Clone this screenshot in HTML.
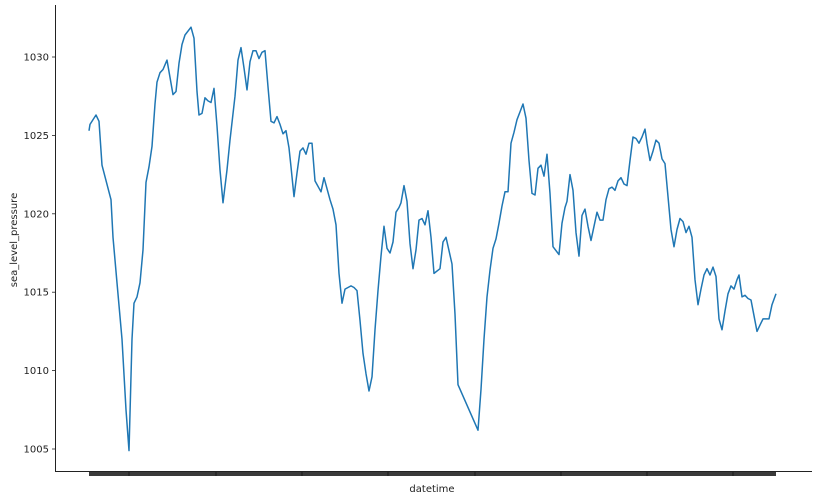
<!DOCTYPE html>
<html><head><meta charset="utf-8"><style>
html,body{margin:0;padding:0;background:#fff;}
svg{display:block;font-family:"DejaVu Sans","Liberation Sans",sans-serif;}
</style></head><body>
<svg id="chart" width="817" height="500" viewBox="0 0 817 500" xmlns="http://www.w3.org/2000/svg">
<g id="yaxis"></g>
<g id="xaxis"></g>
<g id="plot"></g>
<text x="0" y="0" transform="translate(17,240) rotate(-90)" text-anchor="middle" font-size="10" fill="#222">sea_level_pressure</text>
<text x="432" y="492" text-anchor="middle" font-size="10" fill="#222">datetime</text>
</svg>
<script>
const timeIdx = [0,1,7,10,13,22,24,28,33,37,40,43,45,48,51,54,57,60,63,66,68,71,74,78,81,84,87,90,93,96,102,105,108,110,113,116,119,122,125,128,131,134,138,141,146,149,152,155,158,161,164,167,170,173,176,179,182,185,188,191,194,197,200,202,205,208,211,214,217,220,223,
226,232,235,238,241,244,247,250,253,256,259,262,265,268,271,274,277,280,283,286,289,292,295,298,301,304,307,310,312,315,318,321,324,327,330,333,336,339,342,345,351,354,357,363,366,369,389,392,395,398,401,404,407,410,413,416,419,422,425,428,431,434,437,440,443,446,449,452,455,458,
461,464,470,473,476,478,481,484,487,490,493,496,499,502,505,508,511,514,517,520,523,526,529,532,535,538,541,544,547,550,553,556,558,561,564,567,570,573,576,579,582,585,588,591,594,597,600,603,606,609,612,615,618,621,624,627,630,633,636,639,642,645,648,650,653,656,659,662,665,668,671,674,680,683,687];
const pressure = [1025.3,1025.7,1026.3,1025.9,1023.1,1020.9,1018.5,1015.6,1012.0,1007.5,1004.9,1012.0,1014.3,1014.7,1015.6,1017.7,1022.0,1023.0,1024.3,1027.0,1028.4,1029.0,1029.2,1029.8,1028.7,1027.6,1027.8,1029.6,1030.8,1031.4,1031.9,1031.2,1027.8,1026.3,1026.4,1027.4,1027.2,1027.1,1028.0,1025.6,1022.8,1020.7,1022.8,1024.7,1027.5,1029.8,1030.6,1029.3,1027.9,1029.7,1030.4,1030.4,1029.9,1030.3,1030.4,1028.1,1025.9,1025.8,1026.2,1025.7,1025.1,1025.3,1024.2,1023.0,1021.1,1022.6,1024.0,1024.2,1023.8,1024.5,1024.5,
1022.1,1021.4,1022.3,1021.6,1020.9,1020.3,1019.3,1016.2,1014.3,1015.2,1015.3,1015.4,1015.3,1015.1,1013.2,1011.1,1009.8,1008.7,1009.6,1012.6,1015.1,1017.3,1019.2,1017.8,1017.5,1018.2,1020.1,1020.4,1020.7,1021.8,1020.8,1018.1,1016.5,1017.7,1019.6,1019.7,1019.3,1020.2,1018.5,1016.2,1016.5,1018.2,1018.5,1016.8,1013.6,1009.1,1006.2,1008.8,1012.0,1014.7,1016.4,1017.8,1018.4,1019.4,1020.5,1021.4,1021.4,1024.5,1025.2,1026.0,1026.5,1027.0,1026.1,1023.4,1021.3,1021.2,1022.9,1023.1,1022.4,1023.8,
1021.3,1017.9,1017.4,1019.4,1020.4,1020.8,1022.5,1021.5,1018.8,1017.3,1019.9,1020.3,1019.2,1018.3,1019.2,1020.1,1019.6,1019.6,1020.9,1021.6,1021.7,1021.5,1022.1,1022.3,1021.9,1021.8,1023.4,1024.9,1024.8,1024.5,1024.9,1025.4,1024.5,1023.4,1024.0,1024.7,1024.5,1023.5,1023.2,1021.1,1019.0,1017.9,1019.0,1019.7,1019.5,1018.8,1019.2,1018.5,1015.8,1014.2,1015.2,1016.1,1016.5,1016.1,1016.6,1016.0,1013.3,1012.6,1013.8,1014.9,1015.4,1015.2,1015.8,1016.1,1014.7,1014.8,1014.6,1014.5,1013.5,1012.5,1012.9,1013.3,1013.3,1014.2,1014.9];
const yTicks = [1005,1010,1015,1020,1025,1030];
const xMajorTicks = [40,127,213,299,386,472,558,644];

const NS="http://www.w3.org/2000/svg";
const X0=89, X1=776, T0=0, T1=687;
function xs(t){return X0+(t-T0)/(T1-T0)*(X1-X0);}
function ys(v){return 57+(1030-v)*15.68;}
function mk(tag,attrs,parent){const e=document.createElementNS(NS,tag);for(const k in attrs)e.setAttribute(k,attrs[k]);parent.appendChild(e);return e;}
const yax=document.getElementById('yaxis'), xax=document.getElementById('xaxis'), plot=document.getElementById('plot');
let sp=mk('line',{x1:55.5,y1:5,x2:55.5,y2:471.5,stroke:'#222','stroke-width':1},yax);


yTicks.forEach(v=>{
  const y=ys(v);
  const tk=mk('line',{x1:52,y1:y,x2:55.5,y2:y,stroke:'#222','stroke-width':0.8},yax);
  
  
  const tx=mk('text',{x:49,y:y+3.5,'text-anchor':'end','font-size':10,fill:'#222'},yax);
  tx.textContent=v;
  
  
});
let xs_=mk('line',{x1:55,y1:471.5,x2:812,y2:471.5,stroke:'#222','stroke-width':1},xax);


let bar=mk('rect',{x:xs(T0),y:472,width:xs(T1)-xs(T0),height:4,fill:'#3a3a3a'},xax);


xMajorTicks.forEach(t=>{
  const x=xs(t);
  const tk=mk('line',{x1:x,y1:472,x2:x,y2:476,stroke:'#111','stroke-width':0.8},xax);
  
  
});
const n=Math.min(timeIdx.length,pressure.length);
let d='';
for(let i=0;i<n;i++){d+=(i?'L':'M')+xs(timeIdx[i]).toFixed(1)+','+ys(pressure[i]).toFixed(1)+' ';}
const ln=mk('path',{d:d,fill:'none',stroke:'#1f77b4','stroke-width':1.5,'stroke-linejoin':'round'},plot);


</script>
</body></html>
